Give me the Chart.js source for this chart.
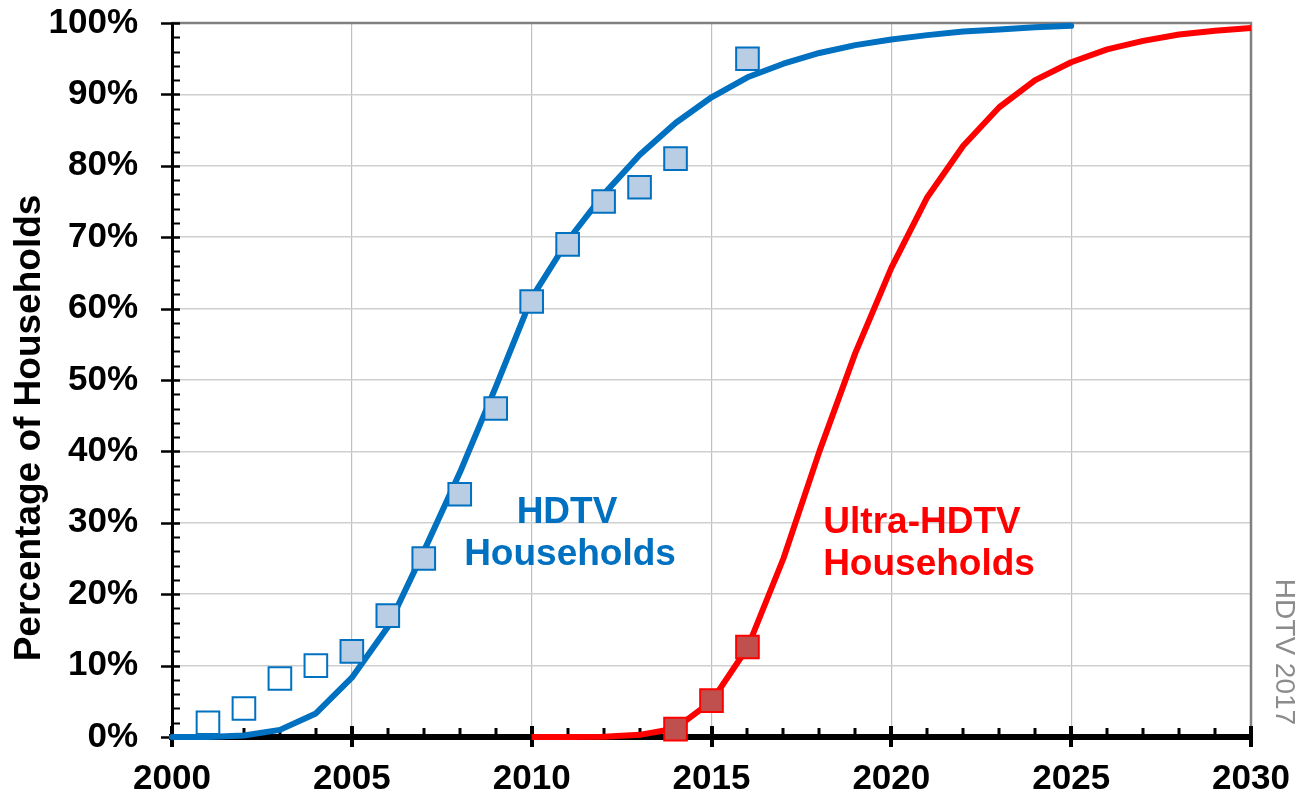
<!DOCTYPE html>
<html>
<head>
<meta charset="utf-8">
<script src="https://cdn.jsdelivr.net/npm/chart.js@4/dist/chart.umd.min.js"></script>
<style>
  html, body { margin: 0; padding: 0; background: #ffffff; }
  #wrap { width: 1300px; height: 799px; position: relative; }
</style>
</head>
<body>
<div id="wrap"><canvas id="c" width="1300" height="799"></canvas></div>
<script>
// ---- Data ----
const hdtvCurveYears = [2000,2001,2002,2003,2004,2005,2006,2007,2008,2009,2010,2011,2012,2013,2014,2015,2016,2017,2018,2019,2020,2021,2022,2023,2024,2025];
const hdtvCurve = [0,0,0.2,1.0,3.3,8.3,15.4,26,37,49,61.5,69.5,76,81.5,86,89.6,92.4,94.3,95.8,96.9,97.7,98.3,98.8,99.1,99.4,99.6];

const hdtvSurveyYears = [2001,2002,2003,2004,2005,2006,2007,2008,2009,2010,2011,2012,2013,2014,2016];
const hdtvSurvey = [2,4,8.2,10,12,17,25,34,46,61,69,75,77,81,95];
const hdtvSurveyOpen = [true,true,true,true,false,false,false,false,false,false,false,false,false,false,false];

const uhdCurveYears = [2010,2011,2012,2013,2014,2015,2016,2017,2018,2019,2020,2021,2022,2023,2024,2025,2026,2027,2028,2029,2030];
const uhdCurve = [0,0,0.05,0.3,1.2,5,12.5,25,40,53.8,65.7,75.6,82.8,88.2,92,94.5,96.3,97.5,98.4,98.9,99.3];

const uhdSurveyYears = [2014,2015,2016];
const uhdSurvey = [1.1,5.1,12.6];

const xTickLabels = [2000,2005,2010,2015,2020,2025,2030];
const yTickLabels = [0,10,20,30,40,50,60,70,80,90,100];

const seriesLabels = ['HDTV Households', 'Ultra-HDTV Households'];
const yTitle = 'Percentage of Households';
const sideNote = 'HDTV 2017';

// ---- Styles ----
const FONT = '"Liberation Sans", Arial, sans-serif';
const BLUE = '#0070c0';
const RED = '#ff0000';

const toXY = (xs, ys) => xs.map((x, i) => ({x: x, y: ys[i]}));

const decorPlugin = {
  id: 'decor',
  beforeDatasetsDraw(chart) {
    const ctx = chart.ctx;
    const a = chart.chartArea;
    const xs = chart.scales.x, ys = chart.scales.y;
    ctx.save();
    // top & right gray frame
    ctx.strokeStyle = '#808080';
    ctx.lineWidth = 2.5;
    ctx.beginPath();
    ctx.moveTo(a.left, a.top);
    ctx.lineTo(a.right, a.top);
    ctx.lineTo(a.right, a.bottom);
    ctx.stroke();
    // y axis ticks
    ctx.strokeStyle = '#000';
    for (let v = 0; v <= 100; v += 2) {
      const py = Math.round(ys.getPixelForValue(v)) + 0.5;
      const major = v % 10 === 0;
      ctx.lineWidth = major ? 2.5 : 2;
      ctx.beginPath();
      ctx.moveTo(major ? a.left - 11 : a.left, py);
      ctx.lineTo(a.left + 8, py);
      ctx.stroke();
    }
    // x axis ticks
    for (let yr = 2000; yr <= 2030; yr++) {
      const px = Math.round(xs.getPixelForValue(yr));
      const major = yr % 5 === 0;
      ctx.lineWidth = major ? 4 : 3;
      ctx.beginPath();
      ctx.moveTo(px, major ? a.bottom - 11 : a.bottom - 9);
      ctx.lineTo(px, major ? a.bottom + 10 : a.bottom);
      ctx.stroke();
    }
    ctx.restore();
  },
  afterDraw(chart) {
    const ctx = chart.ctx;
    ctx.save();
    // Y axis title
    ctx.font = 'bold 37px ' + FONT;
    ctx.fillStyle = '#000';
    ctx.textAlign = 'center';
    ctx.textBaseline = 'middle';
    ctx.translate(30, 428);
    ctx.rotate(-Math.PI / 2);
    ctx.fillText(yTitle, 0, 0);
    ctx.restore();

    ctx.save();
    ctx.font = '28px ' + FONT;
    ctx.fillStyle = '#8c8c8c';
    ctx.textAlign = 'center';
    ctx.textBaseline = 'middle';
    ctx.translate(1284, 652);
    ctx.rotate(Math.PI / 2);
    ctx.fillText(sideNote, 0, 0);
    ctx.restore();

    // Series annotations
    ctx.save();
    ctx.font = 'bold 37px ' + FONT;
    ctx.textAlign = 'center';
    ctx.textBaseline = 'middle';
    const h = seriesLabels[0].split(' ');
    ctx.fillStyle = BLUE;
    ctx.fillText(h[0], 567, 513);
    ctx.fillText(h[1], 570, 555);
    const u = seriesLabels[1].split(' ');
    ctx.fillStyle = RED;
    ctx.fillText(u[0], 922, 523);
    ctx.fillText(u[1], 929, 565);
    ctx.restore();
  }
};

new Chart(document.getElementById('c'), {
  type: 'line',
  data: {
    datasets: [
      {
        label: 'HDTV survey',
        data: toXY(hdtvSurveyYears, hdtvSurvey),
        showLine: false,
        pointStyle: 'rect',
        pointRadius: 16,
        pointHoverRadius: 16,
        pointBorderWidth: 2,
        pointBorderColor: BLUE,
        pointBackgroundColor: hdtvSurveyOpen.map(o => o ? '#ffffff' : '#b9cde5'),
        clip: false,
        order: 0
      },
      {
        label: 'Ultra-HDTV survey',
        data: toXY(uhdSurveyYears, uhdSurvey),
        showLine: false,
        pointStyle: 'rect',
        pointRadius: 16,
        pointHoverRadius: 16,
        pointBorderWidth: 2,
        pointBorderColor: RED,
        pointBackgroundColor: '#c0504d',
        clip: false,
        order: 0
      },
      {
        label: seriesLabels[0],
        data: toXY(hdtvCurveYears, hdtvCurve),
        borderColor: BLUE,
        borderWidth: 6,
        pointRadius: 0,
        tension: 0,
        borderCapStyle: 'round',
        borderJoinStyle: 'round',
        fill: false,
        clip: false,
        order: 1
      },
      {
        label: seriesLabels[1],
        data: toXY(uhdCurveYears, uhdCurve),
        borderColor: RED,
        borderWidth: 6,
        pointRadius: 0,
        tension: 0,
        borderCapStyle: 'butt',
        borderJoinStyle: 'round',
        fill: false,
        clip: false,
        order: 1
      }
    ]
  },
  options: {
    responsive: false,
    animation: false,
    events: [],
    layout: { padding: { left: 0, right: 49, top: 23, bottom: 0 }, autoPadding: false },
    plugins: { legend: { display: false }, tooltip: { enabled: false }, title: { display: false } },
    scales: {
      x: {
        type: 'linear',
        min: 2000, max: 2030,
        afterFit: s => { s.height = 62; },
        afterBuildTicks: s => { s.ticks = xTickLabels.map(v => ({value: v})); },
        ticks: {
          font: { family: FONT, size: 35, weight: 'bold' },
          color: '#000',
          padding: 0,
          maxRotation: 0,
          autoSkip: false,
          callback: v => String(v)
        },
        grid: { color: '#bfbfbf', lineWidth: 1.2, drawTicks: true, tickLength: 21, tickColor: 'rgba(0,0,0,0)' },
        border: { display: true, color: '#000', width: 6 }
      },
      y: {
        type: 'linear',
        min: 0, max: 100,
        afterFit: s => { s.width = 172; },
        afterBuildTicks: s => { s.ticks = yTickLabels.map(v => ({value: v})); },
        ticks: {
          font: { family: FONT, size: 35, weight: 'bold' },
          color: '#000',
          padding: 0,
          autoSkip: false,
          callback: v => v + '%'
        },
        grid: { color: '#cfcfcf', lineWidth: 1.6, drawTicks: true, tickLength: 34, tickColor: 'rgba(0,0,0,0)' },
        border: { display: true, color: '#000', width: 3 }
      }
    }
  },
  plugins: [decorPlugin]
});
</script>
</body>
</html>
